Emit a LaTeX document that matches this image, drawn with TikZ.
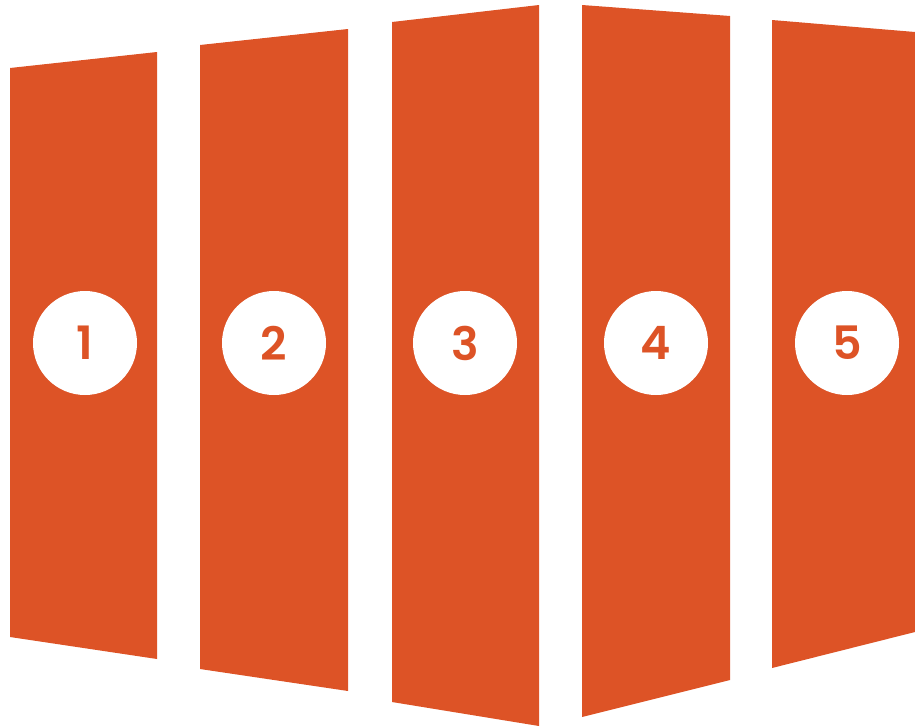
\documentclass[tikz,border=0pt]{standalone}
\usepackage{fontspec}
\setmainfont{Poppins SemiBold}
\usepackage{tikz}
\definecolor{panelorange}{HTML}{DD5326}
\tikzset{
  panel/.style={fill=panelorange},
  badge/.style={circle, fill=white, minimum size=104pt, inner sep=0pt, text=panelorange, font=\fontsize{46}{46}\selectfont},
}

\begin{document}
\begin{tikzpicture}[x=1pt, y=-1pt]
\useasboundingbox (0,0) rectangle (915,726);
\fill[panel] (10,68) -- (157,52) -- (157,659) -- (10,637) -- cycle;
\fill[panel] (200,45) -- (348,29) -- (348,691) -- (200,669) -- cycle;
\fill[panel] (392,22) -- (539,5) -- (539,726) -- (392,702) -- cycle;
\fill[panel] (582,5) -- (730,16) -- (730,680) -- (582,717) -- cycle;
\fill[panel] (772,20) -- (915,32) -- (915,632) -- (772,668) -- cycle;
\node[badge] (c1) at (85,343) {1};
\node[badge] (c2) at (274,343) {2};
\node[badge] (c3) at (465,343) {3};
\node[badge] (c4) at (656,343) {4};
\node[badge] (c5) at (847,343) {5};
\end{tikzpicture}
\end{document}
